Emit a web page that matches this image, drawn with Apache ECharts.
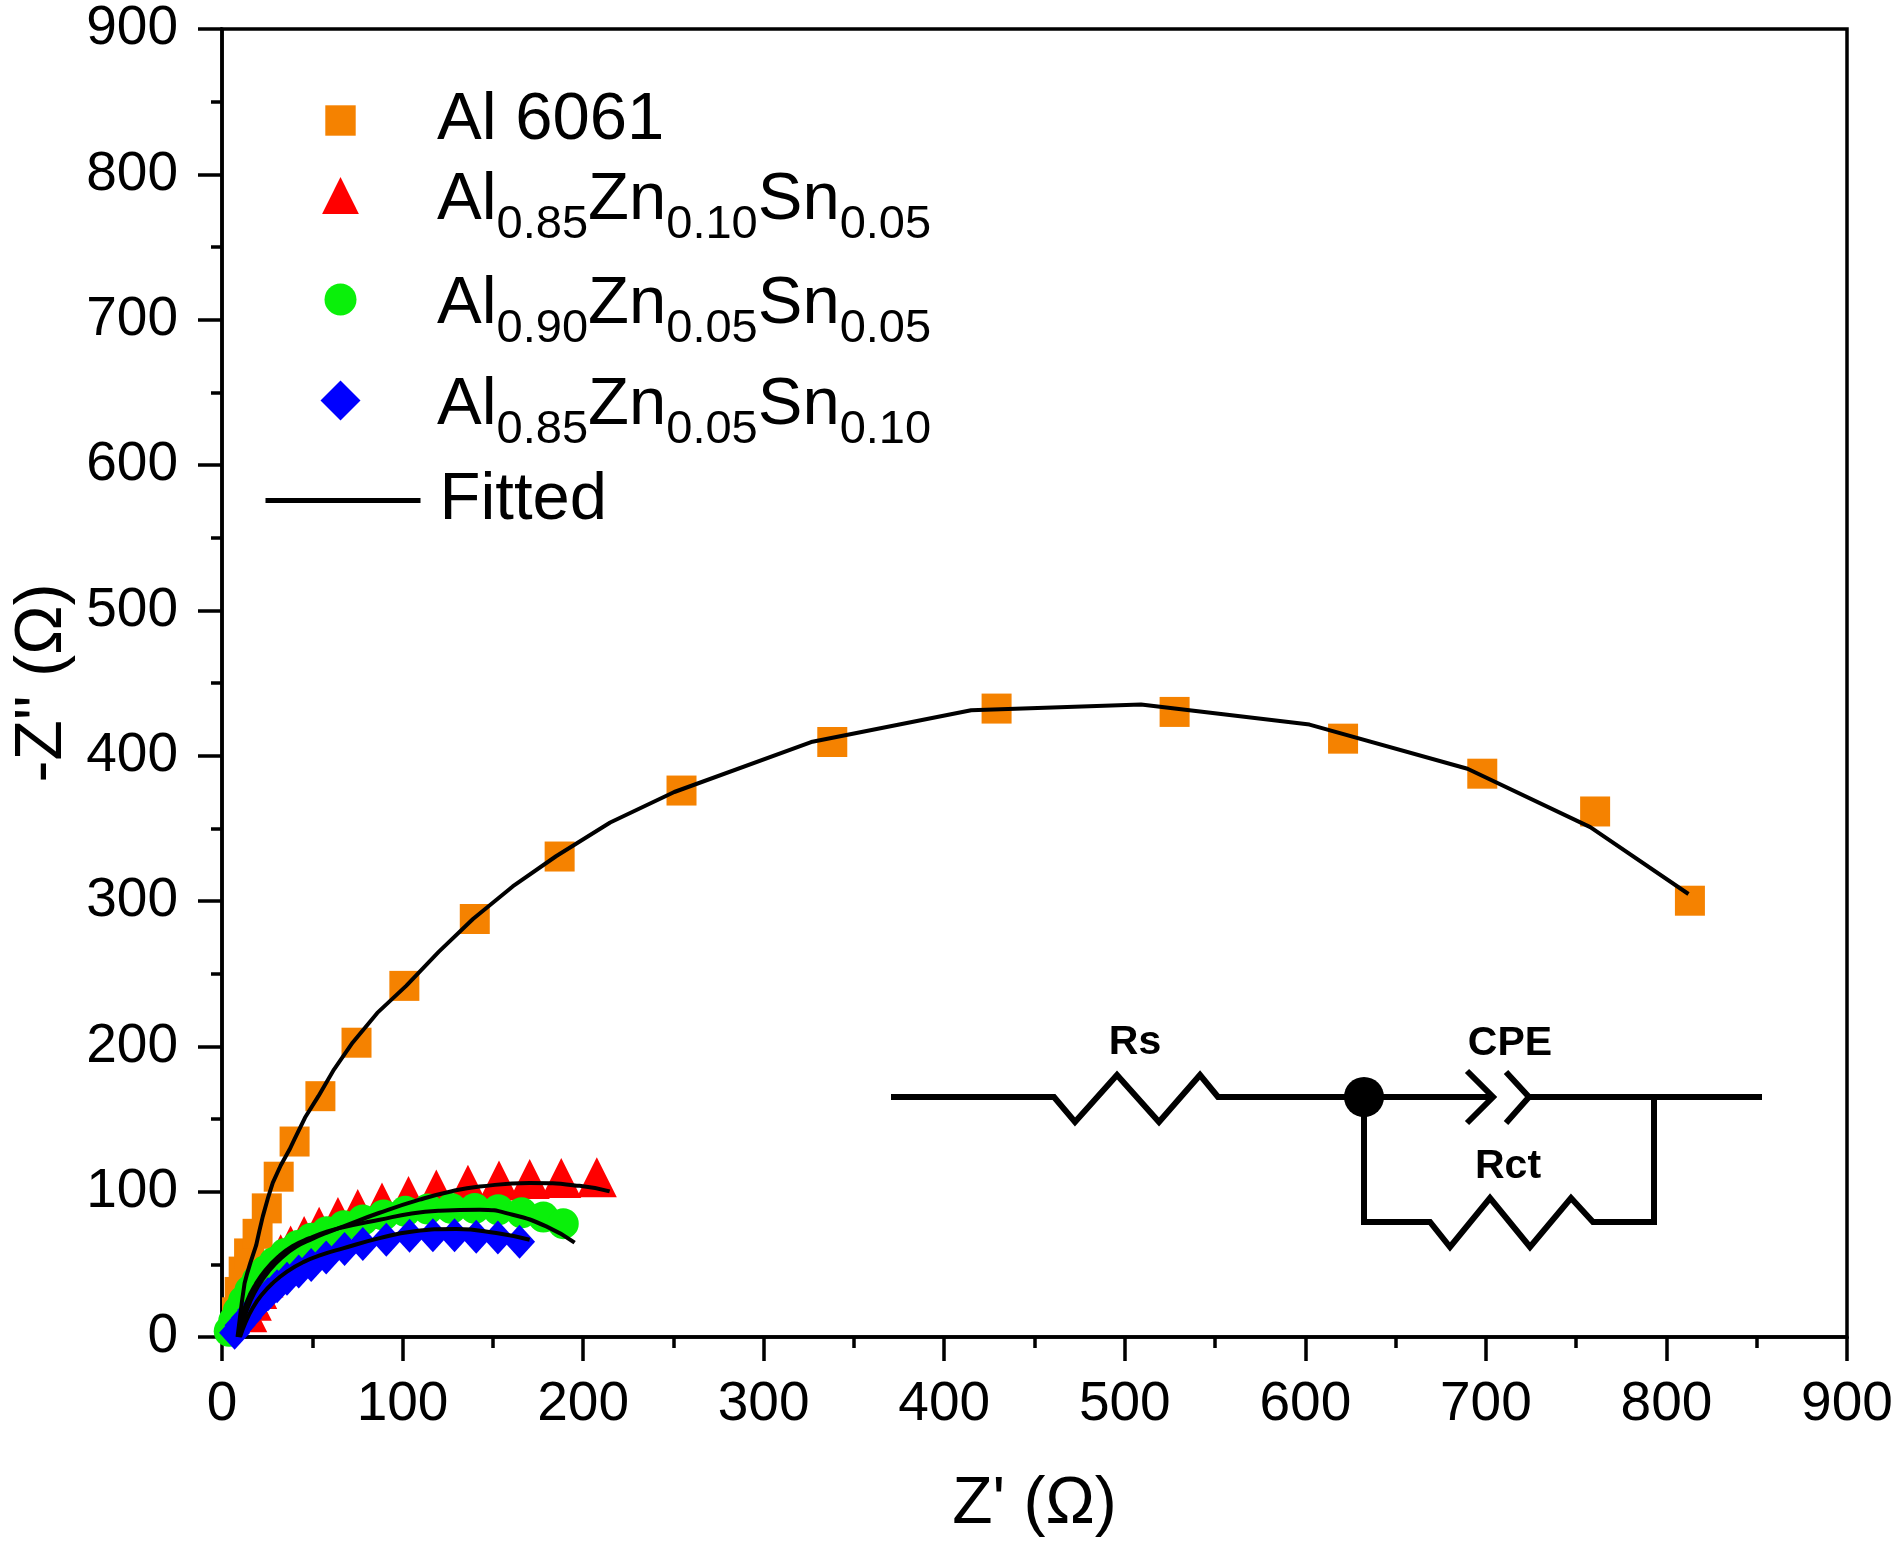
<!DOCTYPE html>
<html>
<head>
<meta charset="utf-8">
<script src="https://cdn.jsdelivr.net/npm/echarts/dist/echarts.min.js"></script>
<style>
  html, body { margin: 0; padding: 0; background: #fff; }
  #main { width: 1900px; height: 1551px; }
</style>
</head>
<body>
<div id="main"></div>
<script>
// measured points, Z' (x) and -Z'' (y), in ohm
var al6061X = [8.3, 9.8, 12, 15, 19.7, 24.8, 31.4, 40.2, 54.5, 74.5, 101, 140, 187, 254.5, 338, 429, 527.6, 620.9, 698, 760.5, 813];
var al6061Y = [17, 31, 45, 57.5, 71, 88.5, 110.3, 134.5, 165.7, 202.5, 241.6, 287.6, 330.6, 376, 409.4, 432.4, 430.1, 411.7, 387.6, 361.6, 300.2];

var zn10X = [14, 16.5, 19.5, 23, 27.5, 32.5, 38, 45.5, 53.8, 64.2, 75.2, 88.6, 103.3, 118.7, 136.2, 153.4, 170.4, 187.9, 207.6];
var zn10Y = [17, 25, 33, 41, 49, 57, 63, 69.5, 75.8, 82.5, 88, 92.5, 97, 101.5, 104.8, 107.6, 108.8, 109.4, 110];

var al90X = [4, 6.5, 9, 12, 15.5, 19.5, 24, 29, 35, 42, 49.5, 58, 67.5, 78, 89.5, 101.5, 114, 127, 140, 153, 166, 178, 189];
var al90Y = [4, 11, 18, 25, 32, 39, 45.5, 51.5, 57.5, 63, 68, 72.5, 76.5, 80.5, 84, 86.5, 88, 88.5, 88.5, 87.5, 85.5, 82.5, 78];

var sn10X = [7, 10, 13.5, 17, 21, 25.5, 30.5, 36, 42.5, 49.4, 57.7, 67.9, 78, 91, 103.9, 116.8, 128.8, 140.8, 152.8, 164.8];
var sn10Y = [3, 8, 13, 18.5, 24, 29.5, 35, 40, 45, 49.5, 54.7, 60.5, 64, 67, 69.7, 70, 70, 69, 68.5, 65.5];

// fitted curves
var al6061FitX = [8.6, 9.8, 11.1, 12.5, 14, 15.7, 17.3, 18.9, 20.7, 22.6, 25.3, 28.1, 32.5, 37.4, 40.1, 46, 53.4, 62, 72.3, 86, 102, 120, 139, 161, 185, 215, 250.5, 326.3, 414.9, 509, 602.3, 689.8, 757.8, 812.2];
var al6061FitY = [0, 12, 25, 37, 44, 51, 57, 63, 73, 83, 95, 106, 118, 129, 135.9, 151, 165.7, 184, 202.5, 223, 241.6, 265, 287.6, 310, 330.8, 354, 375, 409.4, 431.2, 435.2, 421.4, 391, 350.8, 304.8];

var zn10FitX = [9.5, 12, 15.5, 20, 26, 33, 41, 50, 58.5, 67, 87.3, 109.4, 127.9, 142.7, 170.4, 198, 214.7];
var zn10FitY = [0, 12, 24, 35, 45.5, 54.5, 62, 67.5, 72, 76, 85.5, 94.5, 100.5, 103.5, 106, 104, 100.2];

var al90FitX = [9, 11, 14, 18.5, 24, 31, 39, 48.5, 58, 67, 87.3, 105, 120.5, 142.7, 161, 179.6, 195.3];
var al90FitY = [0, 13, 25, 36, 46, 55, 62.5, 68, 72.5, 75.5, 80.7, 85, 86.9, 87.6, 84.1, 76.1, 65];

var sn10FitX = [10, 13, 17, 22, 28, 36, 45, 55, 67, 87.3, 105.7, 129.7, 151.9, 170.4];
var sn10FitY = [0, 10, 20, 29, 37, 45, 51.5, 56.5, 61, 68, 72.6, 74.3, 71.5, 66.9];

var seriesNames = ['Al 6061', 'Al0.85Zn0.10Sn0.05', 'Al0.90Zn0.05Sn0.05', 'Al0.85Zn0.05Sn0.10'];
var fitName = 'Fitted';

var FONT = '"Liberation Sans", Arial, sans-serif';

function pairs(xs, ys) {
  return xs.map(function (x, i) { return [x, ys[i]]; });
}

function dataSeries(name, xs, ys, symbol, size, color) {
  return {
    name: name,
    type: 'line',
    data: pairs(xs, ys),
    symbol: symbol,
    symbolSize: size,
    showSymbol: true,
    lineStyle: { width: 0, opacity: 0, color: 'rgba(0,0,0,0)' },
    itemStyle: { color: color },
    emphasis: { disabled: true },
    silent: true
  };
}

function fitSeries(xs, ys, smooth) {
  return {
    name: fitName,
    type: 'line',
    data: pairs(xs, ys),
    symbol: 'none',
    smooth: smooth,
    lineStyle: { color: '#000', width: 4 },
    itemStyle: { color: '#000', opacity: 0 },
    emphasis: { disabled: true },
    silent: true,
    z: 5
  };
}

// legend labels with subscripts
function legendLabel(name) {
  if (name === fitName) return '{f|Fitted}';
  if (name === 'Al 6061') return '{a|Al 6061}';
  var m = name.match(/^Al([\d.]+)Zn([\d.]+)Sn([\d.]+)$/);
  return '{ma|Al}{s|' + m[1] + '}{m|Zn}{s|' + m[2] + '}{m|Sn}{s|' + m[3] + '}';
}

var legendRich = {
  a: { fontSize: 67, fontFamily: FONT, color: '#000', lineHeight: 56, padding: [0, 0, 0, 14] },
  ma: { fontSize: 67, fontFamily: FONT, color: '#000', lineHeight: 66, padding: [10, 0, 0, 14] },
  m: { fontSize: 67, fontFamily: FONT, color: '#000', lineHeight: 66, padding: [10, 0, 0, 0] },
  s: { fontSize: 47, fontFamily: FONT, color: '#000', lineHeight: 47, padding: [60, 0, 0, 0] },
  f: { fontSize: 67, fontFamily: FONT, color: '#000', lineHeight: 91, padding: [0, 0, 0, 14] }
};

// one legend block per row so the rows sit where the reference has them
function legendRow(item, top, iconHeight) {
  return {
    orient: 'vertical',
    left: 263,
    top: top,
    padding: 0,
    itemGap: 0,
    itemWidth: 155,
    itemHeight: iconHeight,
    selectedMode: false,
    data: [item],
    formatter: legendLabel,
    textStyle: { fontSize: 67, fontFamily: FONT, color: '#000', rich: legendRich }
  };
}

// equivalent circuit inset (pixel drawing)
var wire = { stroke: '#000', lineWidth: 6, fill: null, lineJoin: 'miter' };
var labelFont = 'bold 41px ' + FONT;
var circuit = [
  { type: 'polyline', shape: { points: [[891, 1097], [1054, 1097], [1075, 1122], [1117, 1075], [1159, 1122], [1200, 1075], [1218, 1097], [1492, 1097]] }, style: wire },
  { type: 'polyline', shape: { points: [[1467, 1071], [1493, 1097], [1467, 1123]] }, style: wire },
  { type: 'polyline', shape: { points: [[1506, 1072], [1529, 1097], [1506, 1123]] }, style: wire },
  { type: 'polyline', shape: { points: [[1529, 1097], [1762, 1097]] }, style: wire },
  { type: 'polyline', shape: { points: [[1364, 1097], [1364, 1222], [1430, 1222], [1450, 1247], [1490, 1198], [1530, 1247], [1571, 1198], [1593, 1222], [1654, 1222], [1654, 1097]] }, style: wire },
  { type: 'circle', shape: { cx: 1364, cy: 1097, r: 20 }, style: { fill: '#000' } },
  { type: 'text', x: 1135, y: 1043, style: { text: 'Rs', font: labelFont, fill: '#000', align: 'center', verticalAlign: 'middle' } },
  { type: 'text', x: 1510, y: 1044, style: { text: 'CPE', font: labelFont, fill: '#000', align: 'center', verticalAlign: 'middle' } },
  { type: 'text', x: 1508, y: 1167, style: { text: 'Rct', font: labelFont, fill: '#000', align: 'center', verticalAlign: 'middle' } }
];

function axisCommon(name, nameGap) {
  return {
    type: 'value',
    min: 0,
    max: 900,
    interval: 100,
    name: name,
    nameLocation: 'middle',
    nameGap: nameGap,
    nameTextStyle: { fontSize: 66, fontFamily: FONT, color: '#000' },
    axisLine: { show: true, onZero: false, lineStyle: { color: '#000', width: 3.5 } },
    axisTick: { show: true, inside: false, length: 24, lineStyle: { color: '#000', width: 3.5 } },
    minorTick: { show: true, splitNumber: 2, length: 11, lineStyle: { color: '#000', width: 3.5 } },
    splitLine: { show: false },
    minorSplitLine: { show: false },
    axisLabel: { fontSize: 55, fontFamily: FONT, color: '#000' }
  };
}

var xAxis = axisCommon("Z' (\u03A9)", 135);
xAxis.axisLabel.margin = 40;
var yAxis = axisCommon("-Z'' (\u03A9)", 140);
yAxis.axisLabel.margin = 44;

var option = {
  animation: false,
  backgroundColor: '#fff',
  grid: {
    left: 222,
    right: 53,
    top: 29,
    bottom: 214,
    show: true,
    borderColor: '#000',
    borderWidth: 3.5,
    backgroundColor: 'transparent'
  },
  xAxis: xAxis,
  yAxis: yAxis,
  legend: [
    legendRow(seriesNames[0], 87, 38),
    legendRow(seriesNames[1], 142, 46),
    legendRow(seriesNames[2], 246, 40),
    legendRow(seriesNames[3], 347, 50),
    legendRow({ name: fitName, itemStyle: { opacity: 0 }, lineStyle: { width: 5, color: '#000' } }, 467, 42)
  ],
  graphic: circuit,
  series: [
    dataSeries(seriesNames[0], al6061X, al6061Y, 'rect', 30, '#F58200'),
    dataSeries(seriesNames[1], zn10X, zn10Y, 'triangle', 40, '#FF0000'),
    dataSeries(seriesNames[2], al90X, al90Y, 'circle', 31, '#0AF00A'),
    dataSeries(seriesNames[3], sn10X, sn10Y, 'diamond', [31, 34], '#0000FF'),
    fitSeries(al6061FitX, al6061FitY, false),
    fitSeries(zn10FitX, zn10FitY, true),
    fitSeries(al90FitX, al90FitY, true),
    fitSeries(sn10FitX, sn10FitY, true)
  ]
};

var chartDom = document.getElementById('main');
var myChart = echarts.init(chartDom);
option && myChart.setOption(option);
</script>
</body>
</html>
